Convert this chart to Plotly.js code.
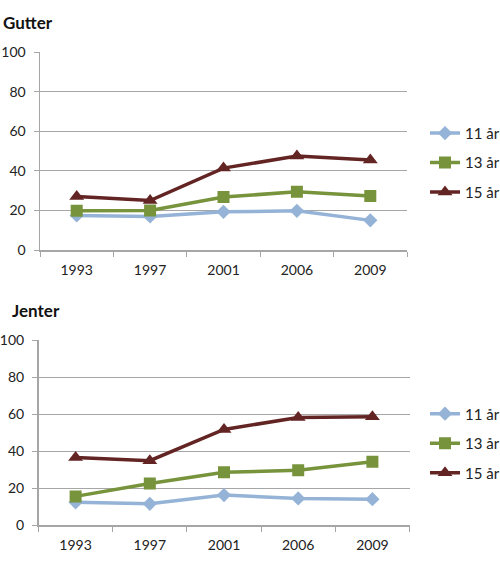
<!DOCTYPE html>
<html>
<head>
<meta charset="utf-8">
<script src="https://cdn.plot.ly/plotly-3.0.1.min.js"></script>
<style>
  html, body { margin: 0; padding: 0; background: #fff; }
  #chart { width: 500px; height: 567px; }
</style>
</head>
<body>
<div id="chart"></div>
<script>
// years on the x axis
const years = ['1993', '1997', '2001', '2006', '2009'];
const seriesNames = ['11 år', '13 år', '15 år'];

// Gutter (boys)
const gutter11 = [17.5, 17, 19.3, 19.8, 15];
const gutter13 = [19.8, 20, 26.8, 29.4, 27.3];
const gutter15 = [27, 25, 41.4, 47.5, 45.5];

// Jenter (girls)
const jenter11 = [12.3, 11.5, 16.2, 14.4, 14];
const jenter13 = [15.5, 22.5, 28.5, 29.7, 34.2];
const jenter15 = [36.6, 34.8, 51.7, 58.2, 58.6];

const colors = ['#95b3d7', '#77933c', '#632523'];
const symbols = ['diamond', 'square', 'triangle-up'];
const sizes = [11, 12, 13];

function makeTraces(values, xa, ya, legendId) {
    return values.map((v, i) => ({
        x: years,
        y: v,
        name: seriesNames[i],
        type: 'scatter',
        mode: 'lines+markers',
        xaxis: xa,
        yaxis: ya,
        legend: legendId,
        legendgroup: legendId + i,
        line: { color: colors[i], width: 3.5 },
        marker: { color: colors[i], symbol: symbols[i], size: sizes[i] },
        hoverinfo: 'x+y+name'
    }));
}

const traces = []
    .concat(makeTraces([gutter11, gutter13, gutter15], 'x', 'y', 'legend'))
    .concat(makeTraces([jenter11, jenter13, jenter15], 'x2', 'y2', 'legend2'));

const tickFont = { family: 'Lato, "Open Sans", sans-serif', size: 14, color: '#222' };

function xAxis(domain, anchor) {
    return {
        domain: domain,
        anchor: anchor,
        type: 'category',
        range: [-0.5, 4.5],
        showline: true,
        linecolor: '#a6a6a6',
        linewidth: 1.5,
        showgrid: false,
        ticks: 'outside',
        tickson: 'boundaries',
        ticklen: 5,
        tickcolor: '#a6a6a6',
        tickfont: tickFont,
        ticklabelstandoff: 7,
        zeroline: false,
        fixedrange: true
    };
}

function yAxis(domain, anchor) {
    return {
        domain: domain,
        anchor: anchor,
        range: [0, 100],
        tickvals: [0, 20, 40, 60, 80, 100],
        showline: true,
        linecolor: '#a6a6a6',
        linewidth: 1.5,
        showgrid: true,
        gridcolor: '#a6a6a6',
        gridwidth: 1,
        ticks: 'outside',
        ticklen: 5,
        tickcolor: '#a6a6a6',
        tickfont: tickFont,
        ticklabelstandoff: 5,
        zeroline: false,
        fixedrange: true
    };
}

function legendBox(y) {
    return {
        x: 0.85,
        xanchor: 'left',
        y: y,
        yanchor: 'top',
        traceorder: 'grouped',
        tracegroupgap: 7,
        font: { family: 'Lato, "Open Sans", sans-serif', size: 15, color: '#222' },
        bgcolor: 'rgba(0,0,0,0)',
        itemwidth: 30
    };
}

const layout = {
    width: 500,
    height: 567,
    margin: { l: 0, r: 0, t: 0, b: 0, autoexpand: false },
    paper_bgcolor: '#fff',
    plot_bgcolor: '#fff',
    showlegend: true,
    xaxis: xAxis([0.08, 0.814], 'y'),
    yaxis: yAxis([0.559, 0.908], 'x'),
    xaxis2: xAxis([0.077, 0.819], 'y2'),
    yaxis2: yAxis([0.074, 0.400], 'x2'),
    legend: legendBox(0.794),
    legend2: legendBox(0.299),
    annotations: [
        { text: '<b>Gutter</b>', xref: 'paper', yref: 'paper', x: 0.002, y: 1 - 22 / 567,
          xanchor: 'left', yanchor: 'middle', showarrow: false,
          font: { family: 'Lato, "Open Sans", sans-serif', size: 17, color: '#111' } },
        { text: '<b>Jenter</b>', xref: 'paper', yref: 'paper', x: 0.02, y: 1 - 310 / 567,
          xanchor: 'left', yanchor: 'middle', showarrow: false,
          font: { family: 'Lato, "Open Sans", sans-serif', size: 17, color: '#111' } }
    ]
};

Plotly.newPlot('chart', traces, layout, { displayModeBar: false, staticPlot: true });
</script>
</body>
</html>
